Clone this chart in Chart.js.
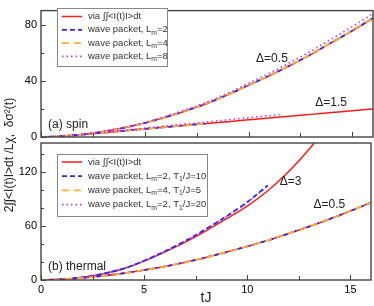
<!DOCTYPE html>
<html>
<head>
<meta charset="utf-8">
<script src="https://cdn.jsdelivr.net/npm/chart.js@4/dist/chart.umd.min.js"></script>
<style>
html,body{margin:0;padding:0;background:#fff;}
#wrap{position:relative;width:374px;height:306px;overflow:hidden;}
#wrap canvas{position:absolute;left:0;top:0;}
</style>
</head>
<body>
<div id="wrap">
<canvas id="cBottom" width="374" height="306"></canvas>
<canvas id="cTop" width="374" height="306"></canvas>
</div>
<script>
// ---------- data ----------
const tFull = [0,1,2,3,4,5,6,7,8,9,10,11,12,13,14,15,16];

// (a) spin, Delta = 0.5
const spinExactD05 = [0,0.5,1.8,3.9,6.6,10,14.1,18.8,24,30.2,37,43.8,51.2,59,67.5,76,85];
const spinLm2D05   = [0,0.5,1.8,3.9,6.6,10,14.2,18.9,24.1,30.3,37.1,43.9,51.3,59.1,67.6,76.1,85.2];
const spinLm4D05   = [0,0.5,1.8,3.9,6.6,10,14.1,18.8,24,30.2,37,43.8,51.2,59,67.5,76,85];
const spinLm8D05   = [0,0.5,1.9,4.1,6.9,10.4,14.7,19.6,25,31.4,38.5,45.6,53.3,61.4,70.2,79,88.4];

// (a) spin, Delta = 1.5
const spinExactD15 = [0,0.6,1.7,3.0,4.4,5.8,7.1,8.4,9.7,11,12.3,13.6,14.9,16.2,17.5,18.8,20];
const tShortD15    = [0,1,2,3,4,5,6,7,8];
const spinLm2D15   = [0,0.6,1.7,3.0,4.4,5.8,7.1,8.4,9.7];
const spinLm4D15   = [0,0.6,1.7,3.0,4.4,5.8,7.1,8.4,9.7];
const tLm8D15      = [0,1,2,3,4,5,6,7,8,9,10,11,11.5];
const spinLm8D15   = [0,0.6,1.8,3.2,4.8,6.4,7.9,9.4,10.8,12.3,13.8,15.3,16.0];

// (b) thermal, Delta = 3
const tExactD3     = [0,1,2,3,4,5,6,7,8,9,10,11,12,13,14];
const thermExactD3 = [0,0.7,3,6.8,12.5,21,31,42,54.5,68,82,99,120,145,174];
const tPacketD3    = [0,1,2,3,4,5,6,7,8,9,10,11];
const thermLm2T10D3 = [0,0.7,3,6.9,12.7,21.4,31.9,43.4,56.6,70.8,86.5,105];
const thermLm2T20D3 = [0,0.7,3,6.9,12.6,21.3,31.7,43.2,56.3,70.5,86,104.5];

// (b) thermal, Delta = 0.5
const thermExactD05 = [0,0.7,2.3,4.6,7.5,11,15,19.8,25,31,37.3,44,51.5,59.3,67.7,76.5,86];
const thermLm2D05   = [0,0.7,2.3,4.6,7.5,11,15,19.8,25,31,37.3,44,51.5,59.3,67.7,76.5,86];
const thermLm4D05   = [0,0.7,2.3,4.6,7.5,11,15,19.8,25,31,37.3,44,51.5,59.3,67.7,76.5,86];

// ticks
const xMajorTicks = [0,5,10,15];
const xMinorTicks = [2.5,7.5,12.5];
const yTopMajor = [0,40,80];
const yTopMinor = [20,60];
const yBotMajor = [0,60,120];
const yBotMinor = [20,40,80,100,140];

// ---------- helpers ----------
const FONT = "'Liberation Sans', Arial, Helvetica, sans-serif";
const RED = '#ff1a1a', BLUE = '#2a2aff', ORANGE = '#ffb030', PURPLE = '#b040f0';
const STY = {
  exact:  {c: RED,    w: 1.5, d: []},
  blue:   {c: BLUE,   w: 1.8, d: [5,3]},
  orange: {c: ORANGE, w: 1.8, d: [7,5]},
  purple: {c: PURPLE, w: 1.6, d: [1.5,3]}
};
function pts(ts, vs){ return ts.map((t,i)=>({x:t, y:vs[i]})); }
function ds(ts, vs, st, order){
  const s = STY[st];
  return {data: pts(ts, vs), borderColor: s.c, borderWidth: s.w, borderDash: s.d,
          pointRadius: 0, fill: false, cubicInterpolationMode: 'monotone', order: order};
}

function drawFrameTicks(chart, xMaj, xMin, yMaj, yMin){
  const {ctx, chartArea: a, scales: {x, y}} = chart;
  ctx.save();
  ctx.strokeStyle = '#444';
  ctx.lineWidth = 1;
  ctx.beginPath();
  const tk = (vals, len) => {
    vals.forEach(v => {
      const px = Math.round(x.getPixelForValue(v)) + 0.5;
      ctx.moveTo(px, a.bottom); ctx.lineTo(px, a.bottom - len);
    });
  };
  const tky = (vals, len) => {
    vals.forEach(v => {
      const py = Math.round(y.getPixelForValue(v)) + 0.5;
      ctx.moveTo(a.left, py); ctx.lineTo(a.left + len, py);
    });
  };
  tk(xMaj, 5); tk(xMin, 4); tky(yMaj, 5); tky(yMin, 3);
  ctx.stroke();
  ctx.lineWidth = 1.4;
  ctx.strokeStyle = '#444';
  ctx.strokeRect(a.left, a.top, a.right - a.left, a.bottom - a.top);
  ctx.restore();
}

function drawRich(ctx, x, y, parts, size){
  parts.forEach(p => {
    if (typeof p === 'string'){
      ctx.font = size + 'px ' + FONT;
      ctx.fillText(p, x, y);
      x += ctx.measureText(p).width;
    } else {
      ctx.font = (size * 0.72) + 'px ' + FONT;
      ctx.fillText(p.sub, x, y + size * 0.32);
      x += ctx.measureText(p.sub).width;
    }
  });
}

function drawLegend(ctx, box, rows){
  ctx.save();
  ctx.fillStyle = '#fff';
  ctx.fillRect(box.x, box.y, box.w, box.h);
  ctx.strokeStyle = '#888';
  ctx.lineWidth = 1;
  ctx.strokeRect(box.x + 0.5, box.y + 0.5, box.w, box.h);
  rows.forEach((r, i) => {
    const yy = box.y + box.first + i * box.gap;
    const s = STY[r.st];
    ctx.strokeStyle = s.c; ctx.lineWidth = s.w; ctx.setLineDash(s.d);
    ctx.beginPath(); ctx.moveTo(box.x + 5, yy); ctx.lineTo(box.x + 25, yy); ctx.stroke();
    ctx.setLineDash([]);
    ctx.fillStyle = '#333';
    ctx.textBaseline = 'middle';
    drawRich(ctx, box.x + 31, yy, r.txt, 9.5);
  });
  ctx.restore();
}

function labelAt(chart, txt, tx, vy, align, size){
  const {ctx, scales: {x, y}} = chart;
  ctx.save();
  ctx.fillStyle = '#222';
  ctx.font = size + 'px ' + FONT;
  ctx.textAlign = align;
  ctx.textBaseline = 'middle';
  ctx.fillText(txt, x.getPixelForValue(tx), y.getPixelForValue(vy));
  ctx.restore();
}

function baseOptions(pad, ymax, yStep, yMajorEvery, showX){
  return {
    responsive: false, animation: false, devicePixelRatio: 1,
    layout: {padding: pad},
    plugins: {legend: {display: false}, tooltip: {enabled: false}},
    scales: {
      x: {type: 'linear', min: 0, max: 16,
          grid: {display: false, drawTicks: false}, border: {display: false},
          ticks: {display: showX, stepSize: 2.5, autoSkip: false, padding: 3, color: '#000',
                  font: {family: FONT, size: 11},
                  callback: v => (v % 5 === 0 ? String(v) : '')},
          afterFit: s => { s.height = showX ? 26 : 0; }},
      y: {type: 'linear', min: 0, max: ymax,
          grid: {display: false, drawTicks: false}, border: {display: false},
          ticks: {stepSize: yStep, padding: 4, color: '#000', font: {family: FONT, size: 11},
                  callback: v => (v % yMajorEvery === 0 ? String(v) : '')},
          afterFit: s => { s.width = 41; }}
    }
  };
}

// ---------- top panel (a) spin ----------
const topPlugin = {
  id: 'topDeco',
  afterDraw(chart){
    drawFrameTicks(chart, xMajorTicks, xMinorTicks, yTopMajor, yTopMinor);
    labelAt(chart, 'Δ=0.5', 11.13, 56, 'center', 12);
    labelAt(chart, 'Δ=1.5', 13.98, 24.7, 'center', 12);
    labelAt(chart, '(a) spin', 0.34, 8.7, 'left', 12);
    drawLegend(chart.ctx, {x: 57, y: 8, w: 110, h: 58, first: 8.5, gap: 13.3}, [
      {st: 'exact',  txt: ['via ∫∫<I(t)I>dt']},
      {st: 'blue',   txt: ['wave packet, L', {sub: 'm'}, '=2']},
      {st: 'orange', txt: ['wave packet, L', {sub: 'm'}, '=4']},
      {st: 'purple', txt: ['wave packet, L', {sub: 'm'}, '=8']}
    ]);
  }
};
new Chart(document.getElementById('cTop'), {
  type: 'line',
  data: {datasets: [
    ds(tFull, spinExactD05, 'exact', 5),
    ds(tFull, spinExactD15, 'exact', 5),
    ds(tFull, spinLm2D05, 'blue', 4),
    ds(tShortD15, spinLm2D15, 'blue', 4),
    ds(tFull, spinLm4D05, 'orange', 3),
    ds(tShortD15, spinLm4D15, 'orange', 3),
    ds(tFull, spinLm8D05, 'purple', 2),
    ds(tLm8D15, spinLm8D15, 'purple', 2)
  ]},
  options: baseOptions({left: 0, right: 1, top: 1, bottom: 169}, 90.5, 20, 40, false),
  plugins: [topPlugin]
});

// ---------- bottom panel (b) thermal ----------
const botPlugin = {
  id: 'botDeco',
  afterDraw(chart){
    drawFrameTicks(chart, xMajorTicks, xMinorTicks, yBotMajor, yBotMinor);
    labelAt(chart, 'Δ=3', 12.1, 108.7, 'center', 12);
    labelAt(chart, 'Δ=0.5', 13.98, 83.9, 'center', 12);
    labelAt(chart, '(b) thermal', 0.34, 15, 'left', 12);
    drawLegend(chart.ctx, {x: 57, y: 154, w: 150, h: 62, first: 8, gap: 14.2}, [
      {st: 'exact',  txt: ['via ∫∫<I(t)I>dt']},
      {st: 'blue',   txt: ['wave packet, L', {sub: 'm'}, '=2, T', {sub: '1'}, '/J=10']},
      {st: 'orange', txt: ['wave packet, L', {sub: 'm'}, '=4, T', {sub: '1'}, '/J=5']},
      {st: 'purple', txt: ['wave packet, L', {sub: 'm'}, '=2, T', {sub: '1'}, '/J=20']}
    ]);
    const ctx = chart.ctx;
    ctx.save();
    ctx.fillStyle = '#222';
    ctx.textAlign = 'center';
    ctx.textBaseline = 'middle';
    ctx.font = '14px ' + FONT;
    ctx.fillText('tJ', (chart.chartArea.left + chart.chartArea.right) / 2, 298);
    ctx.translate(10, 155);
    ctx.rotate(-Math.PI / 2);
    ctx.font = '12px ' + FONT;
    ctx.fillText('2∫∫<I(t)I>dt /Lχ,  δσ²(t)', 0, 0);
    ctx.restore();
  }
};
new Chart(document.getElementById('cBottom'), {
  type: 'line',
  data: {datasets: [
    ds(tExactD3, thermExactD3, 'exact', 5),
    ds(tFull, thermExactD05, 'exact', 5),
    ds(tPacketD3, thermLm2T20D3, 'purple', 4),
    ds(tPacketD3, thermLm2T10D3, 'blue', 3),
    ds(tFull, thermLm2D05, 'blue', 3),
    ds(tFull, thermLm4D05, 'orange', 2)
  ]},
  options: baseOptions({left: 0, right: 1, top: 143, bottom: 0}, 152, 20, 60, true),
  plugins: [botPlugin]
});
</script>
</body>
</html>
